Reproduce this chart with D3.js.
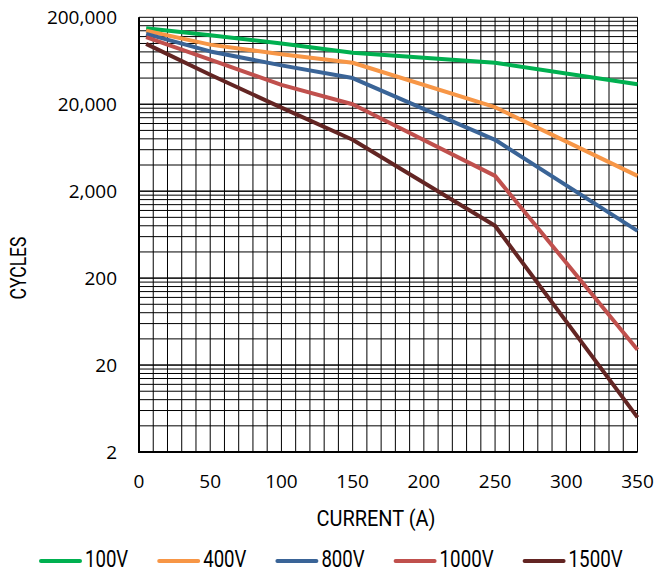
<!DOCTYPE html>
<html lang="en">
<head>
<meta charset="UTF-8">
<title>Cycles vs Current</title>
<script src="https://cdn.jsdelivr.net/npm/d3@7"></script>
<style>
  body { margin: 0; background: #fff; }
  .tick-label { font-family: "Open Sans", "Noto Sans", sans-serif; font-size: 19px; fill: #000; }
  .narrow { font-family: "Liberation Sans Narrow", "Roboto", sans-serif; font-size: 22px; fill: #000; }
  .legend-label { font-family: "Liberation Sans Narrow", "Roboto", sans-serif; font-size: 23px; fill: #000; }
</style>
</head>
<body>
<div id="chart"></div>
<script>
    // Data
    const current = [5, 50, 100, 150, 250, 350];
    const cycles100V = [150000, 124000, 100000, 78000, 60000, 34000];
    const cycles400V = [140000, 97000, 75000, 60000, 18500, 3000];
    const cycles800V = [129000, 81000, 56000, 40000, 7800, 700];
    const cycles1000V = [118000, 65000, 33400, 20000, 3000, 30];
    const cycles1500V = [99000, 43600, 18300, 7800, 800, 5];

    const seriesNames = ["100V", "400V", "800V", "1000V", "1500V"];
    const seriesValues = [cycles100V, cycles400V, cycles800V, cycles1000V, cycles1500V];
    const seriesColors = ["#00b050", "#f79646", "#3a6497", "#c0504d", "#632523"];

    const xTicks = [0, 50, 100, 150, 200, 250, 300, 350];
    const yTicks = [2, 20, 200, 2000, 20000, 200000];

    const W = 657, H = 573;
    const plot = { left: 139, right: 637.5, top: 17.3, bottom: 452 };

    const svg = d3.select("#chart").append("svg")
        .attr("width", W)
        .attr("height", H);

    const x = d3.scaleLinear().domain([0, 350]).range([plot.left, plot.right]);
    const y = d3.scaleLog().domain([2, 200000]).range([plot.bottom, plot.top]);

    // gridlines: every 10 A, and 2,4,...,20 within each decade
    const xGrid = d3.range(0, 351, 10);
    const yGrid = [];
    yTicks.slice(0, -1).forEach(t => {
        for (let m = 1; m <= 10; m++) yGrid.push(t * m);
    });

    const grid = svg.append("g").attr("stroke", "#000").attr("stroke-width", 1);
    grid.selectAll(".vg").data(xGrid).enter().append("line")
        .attr("x1", d => x(d)).attr("x2", d => x(d))
        .attr("y1", plot.top).attr("y2", plot.bottom);
    grid.selectAll(".hg").data(yGrid).enter().append("line")
        .attr("x1", plot.left).attr("x2", plot.right)
        .attr("y1", d => y(d)).attr("y2", d => y(d));

    // heavier left and bottom axis lines
    svg.append("line")
        .attr("x1", plot.left).attr("x2", plot.left)
        .attr("y1", plot.top).attr("y2", plot.bottom + 1)
        .attr("stroke", "#000").attr("stroke-width", 2);
    svg.append("line")
        .attr("x1", plot.left - 1).attr("x2", plot.right)
        .attr("y1", plot.bottom).attr("y2", plot.bottom)
        .attr("stroke", "#000").attr("stroke-width", 2);

    // series lines
    const line = d3.line()
        .x((d, i) => x(current[i]))
        .y(d => y(d));

    svg.append("g").selectAll("path")
        .data(seriesValues)
        .enter().append("path")
        .attr("d", line)
        .attr("fill", "none")
        .attr("stroke", (d, i) => seriesColors[i])
        .attr("stroke-width", 4)
        .attr("stroke-linejoin", "round");

    // tick labels
    const fmt = d3.format(",");
    svg.append("g").selectAll("text")
        .data(yTicks)
        .enter().append("text")
        .attr("class", "tick-label")
        .attr("x", plot.left - 22)
        .attr("y", d => y(d))
        .attr("dy", "0.35em")
        .attr("text-anchor", "end")
        .text(d => fmt(d));

    svg.append("g").selectAll("text")
        .data(xTicks)
        .enter().append("text")
        .attr("class", "tick-label")
        .attr("x", d => x(d))
        .attr("y", 481)
        .attr("dy", "0.35em")
        .attr("text-anchor", "middle")
        .text(d => d);

    // axis titles
    svg.append("text")
        .attr("class", "narrow")
        .attr("x", 376)
        .attr("y", 518)
        .attr("dy", "0.35em")
        .attr("text-anchor", "middle")
        .attr("textLength", 119)
        .attr("lengthAdjust", "spacingAndGlyphs")
        .text("CURRENT (A)");

    svg.append("text")
        .attr("class", "narrow")
        .attr("transform", "translate(18,268) rotate(-90)")
        .attr("dy", "0.35em")
        .attr("text-anchor", "middle")
        .attr("textLength", 63)
        .attr("lengthAdjust", "spacingAndGlyphs")
        .text("CYCLES");

    // legend
    const legendY = 561;
    let lx = 39;
    seriesNames.forEach((name, i) => {
        svg.append("line")
            .attr("x1", lx + 2).attr("x2", lx + 41)
            .attr("y1", legendY).attr("y2", legendY)
            .attr("stroke", seriesColors[i])
            .attr("stroke-width", 4)
            .attr("stroke-linecap", "round");
        const w = name.length * 10.8;
        svg.append("text")
            .attr("class", "legend-label")
            .attr("x", lx + 46)
            .attr("y", legendY - 2)
            .attr("dy", "0.35em")
            .attr("textLength", w)
            .attr("lengthAdjust", "spacingAndGlyphs")
            .text(name);
        lx += 46 + w + 29;
    });
</script>
</body>
</html>
